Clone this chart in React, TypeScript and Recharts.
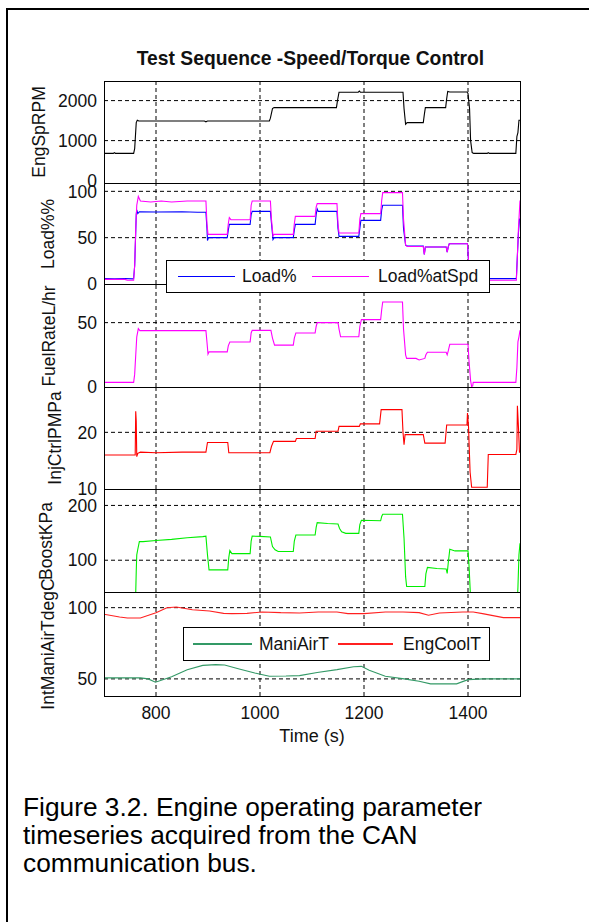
import { LineChart, Line, XAxis, YAxis, ReferenceLine } from 'recharts';

const FONT = '"Liberation Sans", Arial, Helvetica, sans-serif';
const INK = '#111';

const timeTicks = [800, 1000, 1200, 1400];

// EngSpRPM
const rpmTime = [700, 718, 720, 722, 757, 759, 762, 764, 767, 893, 896, 899, 1018, 1020, 1024, 1027, 1147, 1149, 1152, 1189, 1191, 1193, 1275, 1277, 1280, 1283, 1314, 1316, 1318, 1357, 1359, 1361, 1365, 1398, 1400, 1403, 1405, 1408, 1411, 1437, 1439, 1441, 1492, 1494, 1496, 1498, 1500];
const rpmValue = [680, 680, 700, 680, 680, 800, 1450, 1510, 1490, 1490, 1470, 1490, 1490, 1560, 1800, 1825, 1825, 2000, 2210, 2210, 2240, 2210, 2210, 1800, 1410, 1450, 1450, 1650, 1825, 1825, 2050, 2230, 2215, 2215, 2180, 1800, 1000, 700, 680, 680, 700, 680, 680, 1100, 1200, 1510, 1510];

// Load% and Load%atSpd
const loadTime = [700, 720, 740, 755, 757, 759, 761, 762, 763, 765, 768, 800, 850, 880, 896, 898, 899, 901, 937, 939, 941, 981, 983, 985, 1020, 1022, 1025, 1027, 1064, 1066, 1068, 1106, 1108, 1110, 1112, 1148, 1150, 1152, 1190, 1192, 1194, 1232, 1234, 1236, 1274, 1276, 1280, 1283, 1314, 1316, 1318, 1358, 1360, 1362, 1364, 1399, 1401, 1404, 1406, 1493, 1495, 1497, 1499, 1500];
const loadValue = [6, 5.5, 6, 5.5, 6, 20, 55, 75, 80, 76, 78, 77.7, 78, 77.5, 77.5, 60, 47, 50, 50, 58, 64.4, 64.4, 75, 78.4, 78.4, 66, 48, 50, 50, 58, 64.4, 64.4, 75, 81, 78.4, 78.4, 60, 51.4, 51.4, 60, 68.7, 68.7, 80, 85, 85, 60, 42, 41, 41, 32, 40, 40, 34.5, 40, 43.5, 43.5, 25, 8, 5.8, 5.8, 31, 55, 70, 70];
const loadSpdTime = [700, 740, 745, 757, 759, 761, 763, 766, 768, 770, 790, 810, 830, 860, 896, 898, 900, 937, 939, 941, 944, 981, 983, 985, 1020, 1022, 1025, 1027, 1064, 1066, 1068, 1106, 1108, 1110, 1148, 1150, 1152, 1190, 1192, 1194, 1232, 1234, 1236, 1274, 1276, 1280, 1283, 1314, 1316, 1318, 1358, 1360, 1362, 1364, 1399, 1401, 1404, 1406, 1493, 1495, 1497, 1499, 1500];
const loadSpdValue = [5, 5, 4, 4, 20, 60, 85, 94.6, 92, 89.5, 88.5, 89.5, 88.5, 89.5, 89.5, 65, 53.6, 53.6, 65, 71.6, 69.4, 69.4, 85, 89.6, 89.6, 70, 52, 53.6, 53.6, 65, 73, 73, 83, 86.7, 86.7, 65, 55, 55, 70, 76, 76, 90, 98.6, 98.6, 70, 42, 40.5, 40.5, 32, 40, 40, 34.5, 40, 43.5, 43.5, 25, 6, 4, 4, 31, 60, 80, 90];

// FuelRateL/hr
const fuelTime = [700, 757, 759, 763, 766, 769, 896, 898, 900, 902, 937, 939, 942, 981, 983, 985, 1021, 1024, 1028, 1064, 1066, 1069, 1106, 1108, 1110, 1150, 1152, 1155, 1190, 1192, 1195, 1232, 1234, 1236, 1274, 1276, 1280, 1282, 1300, 1306, 1317, 1319, 1322, 1358, 1360, 1362, 1365, 1400, 1402, 1405, 1407, 1409, 1410, 1492, 1494, 1496, 1498, 1500];
const fuelValue = [3.6, 3.6, 10, 39, 45.4, 43.8, 43.8, 35, 25.5, 27.3, 27.3, 32, 35, 35, 42, 44, 44, 38, 32.5, 32.5, 38, 42, 42, 47, 50, 50, 45, 39, 39, 47, 52.3, 52.3, 60, 66, 66, 45, 25, 22.2, 22.2, 21, 22.2, 25, 27, 27, 25, 28, 33.2, 33.2, 20, 5, 0.4, 0.8, 3.6, 3.6, 15, 35, 39, 44];

// InjCtrlPMPa
const injTime = [700, 760, 761, 762, 763, 765, 770, 800, 850, 896, 899, 938, 940, 1019, 1022, 1026, 1068, 1070, 1106, 1108, 1150, 1152, 1191, 1193, 1230, 1233, 1273, 1275, 1277, 1279, 1314, 1317, 1356, 1359, 1398, 1399, 1401, 1404, 1407, 1437, 1439, 1492, 1494, 1495, 1497, 1499, 1500];
const injValue = [16, 16, 23.7, 22, 15.7, 16.3, 16.5, 16.4, 16.5, 16.5, 18.2, 18.2, 16.4, 16.4, 17.5, 18.4, 18.4, 18.9, 18.9, 20.2, 20.2, 21.05, 21.05, 21.5, 21.5, 24, 24, 20, 17.8, 19.6, 19.6, 18.1, 18.1, 21.3, 21.3, 23.4, 21, 13, 10.3, 10.3, 16.1, 16.1, 17, 24.7, 21, 16.5, 16.5];

// BoostKPa
const boostTime = [700, 760, 761, 762, 763, 765, 768, 775, 800, 830, 860, 890, 896, 899, 902, 938, 940, 942, 946, 981, 983, 985, 1000, 1020, 1024, 1029, 1035, 1064, 1066, 1069, 1106, 1108, 1110, 1130, 1150, 1153, 1157, 1165, 1190, 1192, 1195, 1232, 1234, 1236, 1274, 1277, 1280, 1282, 1317, 1319, 1322, 1340, 1358, 1360, 1362, 1365, 1375, 1400, 1402, 1405, 1495, 1496, 1498, 1500];
const boostValue = [30, 30, 40, 80, 109.7, 120, 134, 134, 136, 138, 141, 143, 144, 110, 82.4, 82.4, 105, 117.6, 112, 112, 135, 144, 143.5, 142.4, 125, 119, 116, 116, 135, 146, 146, 160, 168.5, 167, 166, 158, 152, 149, 149, 165, 173, 172, 180, 184, 184, 140, 70, 52, 52, 75, 87, 85, 84, 76, 95, 120, 117, 117, 90, 30, 30, 50, 110, 131];

// IntManiAirTdegC
const airTime = [700, 770, 785, 799, 830, 860, 890, 915, 932, 960, 990, 1018, 1050, 1076, 1110, 1148, 1180, 1195, 1210, 1241, 1277, 1306, 1328, 1378, 1400, 1430, 1500];
const airValue = [50.7, 50.7, 50, 47.7, 51.5, 56.5, 59.5, 60, 59.8, 57, 54.2, 51.9, 52, 52.3, 54.5, 56.5, 58.5, 58.8, 56, 51.9, 50, 48.4, 46.5, 46.5, 49.5, 50, 50];
const coolTime = [700, 730, 745, 770, 800, 821, 839, 870, 903, 930, 946, 975, 1004, 1040, 1076, 1112, 1148, 1169, 1200, 1241, 1275, 1306, 1324, 1345, 1390, 1410, 1428, 1468, 1500];
const coolValue = [95.4, 93.5, 92.8, 92.8, 96.5, 100, 100.5, 98.5, 97.7, 96, 95.8, 96, 97, 96.5, 96.3, 97, 97, 95.8, 95.8, 97, 97, 96.5, 94.7, 96.3, 97, 97, 95.8, 93, 93];

const toPoints = (t: number[], v: number[]) => t.map((x, i) => ({ t: x, v: v[i] }));

const W = 589;
const H = 922;
const PLOT_LEFT = 104;
const PLOT_RIGHT = 520;
const PAD = 14;
const TICK_FONT = 17.5;

const panels = [
  { label: 'EngSpRPM', labelX: 39, top: 81, bottom: 183, domain: [-60, 2490], ticks: [0, 1000, 2000], grid: [1000, 2000],
    series: [{ name: 'rpm', color: '#000000', data: toPoints(rpmTime, rpmValue) }] },
  { label: 'Load%%', labelX: 48, top: 183, bottom: 284, domain: [0, 109], ticks: [0, 50, 100], grid: [50, 100],
    series: [
      { name: 'load', color: '#0000ff', data: toPoints(loadTime, loadValue) },
      { name: 'loadSpd', color: '#ff00ff', data: toPoints(loadSpdTime, loadSpdValue) },
    ] },
  { label: 'FuelRateL/hr', labelX: 49, top: 284, bottom: 387, domain: [0, 80], ticks: [0, 50], grid: [50],
    series: [{ name: 'fuel', color: '#ff00ff', data: toPoints(fuelTime, fuelValue) }] },
  { label: 'InjCtrlPMPa', labelX: 55, top: 387, bottom: 489, domain: [10, 28], ticks: [10, 20], grid: [20],
    series: [{ name: 'inj', color: '#ff0000', data: toPoints(injTime, injValue) }] },
  { label: 'BoostKPa', labelX: 46, top: 489, bottom: 592, domain: [42, 230], ticks: [100, 200], grid: [100, 200],
    series: [{ name: 'boost', color: '#00ee00', data: toPoints(boostTime, boostValue) }] },
  { label: 'IntManiAirTdegC', labelX: 48, top: 592, bottom: 696, domain: [38, 111], ticks: [50, 100], grid: [50, 100],
    series: [
      { name: 'air', color: '#339966', data: toPoints(airTime, airValue) },
      { name: 'cool', color: '#ff2020', data: toPoints(coolTime, coolValue) },
    ] },
];

type PanelCfg = (typeof panels)[number];

const tickStyle = { fill: INK, fontSize: TICK_FONT, fontFamily: FONT };

const Panel = ({ cfg, last }: { cfg: PanelCfg; last: boolean }) => {
  const h = cfg.bottom - cfg.top;
  const axisH = last ? 30 : 0;
  return (
    <div style={{ position: 'absolute', left: 0, top: cfg.top - PAD }}>
      <LineChart
        width={W}
        height={h + 2 * PAD + axisH}
        margin={{ top: PAD, right: W - PLOT_RIGHT, bottom: PAD, left: 0 }}
      >
        <XAxis
          dataKey="t"
          type="number"
          domain={[700, 1500]}
          allowDataOverflow
          ticks={timeTicks}
          interval={0}
          height={axisH}
          tick={last ? tickStyle : false}
          tickSize={0}
          tickMargin={11}
          axisLine={false}
        />
        <YAxis
          type="number"
          domain={cfg.domain}
          allowDataOverflow
          ticks={cfg.ticks}
          interval={0}
          width={PLOT_LEFT}
          tick={tickStyle}
          tickSize={0}
          tickMargin={7}
          axisLine={false}
        />
        {timeTicks.map((t) => (
          <ReferenceLine key={'x' + t} x={t} stroke="#000" strokeDasharray="4 3" />
        ))}
        {cfg.grid.map((g) => (
          <ReferenceLine key={'y' + g} y={g} stroke="#000" strokeDasharray="4 3" />
        ))}
        {cfg.series.map((s) => (
          <Line
            key={s.name}
            data={s.data}
            dataKey="v"
            type="linear"
            stroke={s.color}
            strokeWidth={1.1}
            dot={false}
            activeDot={false}
            isAnimationActive={false}
          />
        ))}
      </LineChart>
      {/* axes box; bottom edge shares a pixel row with the next panel's top edge */}
      <div
        style={{
          position: 'absolute',
          left: PLOT_LEFT,
          top: PAD,
          width: PLOT_RIGHT - PLOT_LEFT + 1,
          height: h + 1,
          border: '1px solid #000',
          boxSizing: 'border-box',
          pointerEvents: 'none',
        }}
      />
    </div>
  );
};

const YLabel = ({ text, cx, cy }: { text: string; cx: number; cy: number }) => (
  <div
    style={{
      position: 'absolute',
      left: cx - 100,
      top: cy - 10,
      width: 200,
      height: 20,
      lineHeight: '20px',
      textAlign: 'center',
      fontSize: TICK_FONT,
      color: INK,
      transform: 'rotate(-90deg)',
      whiteSpace: 'nowrap',
    }}
  >
    {text}
  </div>
);

const Swatch = ({ left, width, color }: { left: number; width: number; color: string }) => (
  <div style={{ position: 'absolute', left, top: '50%', width, height: 1.5, marginTop: -1, background: color }} />
);

const LegendText = ({ left, text }: { left: number; text: string }) => (
  <div style={{ position: 'absolute', left, top: 0, bottom: 0, display: 'flex', alignItems: 'center', fontSize: TICK_FONT, color: INK }}>
    {text}
  </div>
);

export default function App() {
  return (
    <div
      style={{
        position: 'absolute',
        left: 0,
        top: 0,
        width: W,
        height: H,
        background: '#fff',
        overflow: 'hidden',
        fontFamily: FONT,
      }}
    >
      <div style={{ position: 'absolute', left: 6, top: 8, width: W, height: H, borderLeft: '2px solid #000', borderTop: '2px solid #000' }} />

      <div style={{ position: 'absolute', left: 110, top: 48, width: 401, lineHeight: '22px', textAlign: 'center', fontSize: 19.3, fontWeight: 'bold', color: INK }}>
        Test Sequence -Speed/Torque Control
      </div>

      {panels.map((p, i) => (
        <Panel key={p.label} cfg={p} last={i === panels.length - 1} />
      ))}

      {panels.map((p) => (
        <YLabel key={'l' + p.label} text={p.label} cx={p.labelX} cy={(p.top + p.bottom) / 2} />
      ))}

      <div style={{ position: 'absolute', left: 166, top: 260, width: 324, height: 33, border: '1px solid #000', background: '#fff', boxSizing: 'border-box' }}>
        <Swatch left={11} width={57} color="#0000ff" />
        <LegendText left={75} text="Load%" />
        <Swatch left={145} width={57} color="#ff00ff" />
        <LegendText left={211} text="Load%atSpd" />
      </div>

      <div style={{ position: 'absolute', left: 183, top: 627, width: 307, height: 34, border: '1px solid #000', background: '#fff', boxSizing: 'border-box' }}>
        <Swatch left={9} width={59} color="#339966" />
        <LegendText left={75} text="ManiAirT" />
        <Swatch left={154} width={55} color="#ff2020" />
        <LegendText left={219} text="EngCoolT" />
      </div>

      <div style={{ position: 'absolute', left: 212, top: 725, width: 200, lineHeight: '22px', textAlign: 'center', fontSize: 18, color: INK }}>
        Time (s)
      </div>

      <div style={{ position: 'absolute', left: 23, top: 793, width: 540, fontSize: 26.3, lineHeight: '28px', color: '#000' }}>
        Figure 3.2. Engine operating parameter
        <br />
        timeseries acquired from the CAN
        <br />
        communication bus.
      </div>
    </div>
  );
}
